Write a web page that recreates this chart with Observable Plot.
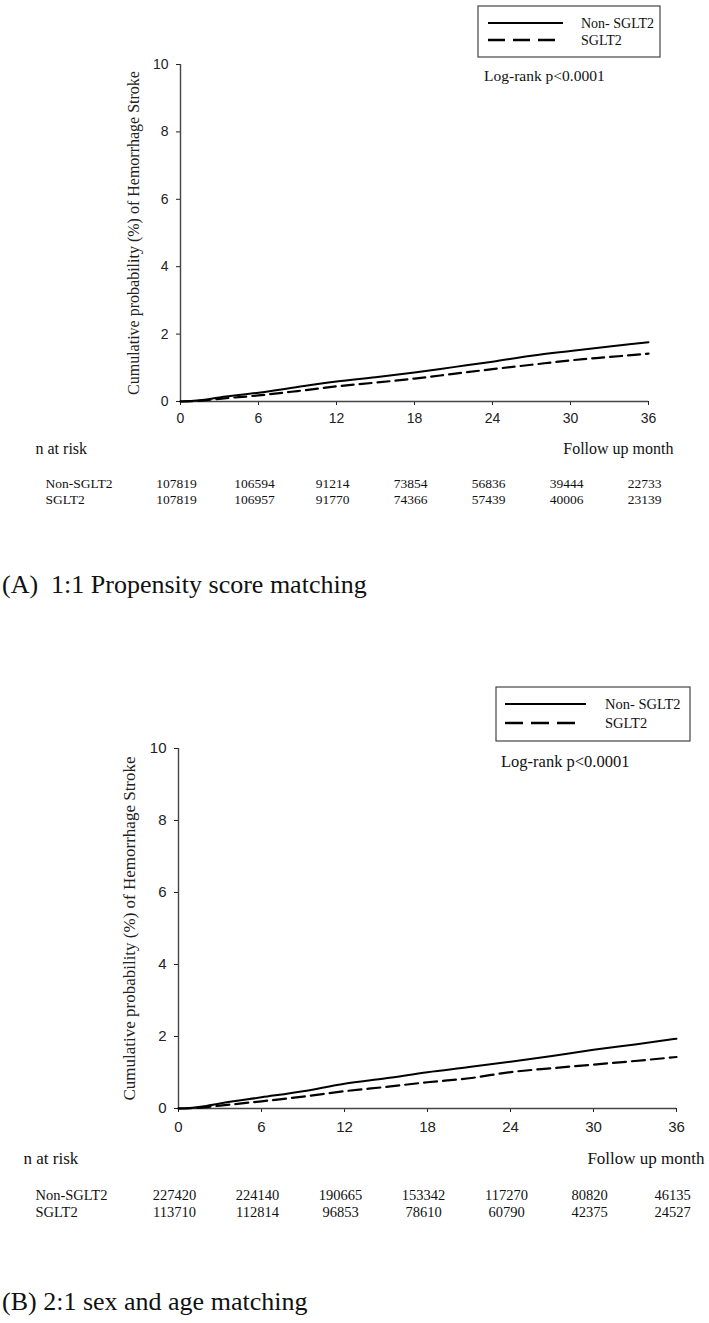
<!DOCTYPE html>
<html>
<head>
<meta charset="utf-8">
<script src="https://cdn.jsdelivr.net/npm/d3@7"></script>
<script src="https://cdn.jsdelivr.net/npm/@observablehq/plot@0.6"></script>
<style>
  html, body { margin: 0; padding: 0; background: #fff; }
  #wrap { position: relative; width: 709px; height: 1323px; }
  .panel { position: absolute; left: 0; }
  .cap { position: absolute; left: 2px; font-family: "Liberation Serif", "Times New Roman", serif; font-size: 26px; line-height: 26px; color: #111; white-space: pre; }
</style>
</head>
<body>
<div id="wrap">
  <div id="pA" class="panel" style="top:0px"></div>
  <div class="cap" style="top:572px">(A)  1:1 Propensity score matching</div>
  <div id="pB" class="panel" style="top:640px"></div>
  <div class="cap" style="top:1289px">(B) 2:1 sex and age matching</div>
</div>
<script>
// ---- data ----
const groups = ["Non- SGLT2", "SGLT2"];
const rowLabels = ["Non-SGLT2", "SGLT2"];
const yTitle = "Cumulative probability (%) of Hemorrhage Stroke";
const logRank = "Log-rank p<0.0001";
const xTicks = [0, 6, 12, 18, 24, 30, 36];
const yTicks = [0, 2, 4, 6, 8, 10];

const months = [0, 1, 2, 3, 6, 9, 12, 15, 18, 21, 24, 27, 30, 33, 36];
const nonA = [0, 0.02, 0.06, 0.12, 0.26, 0.43, 0.59, 0.72, 0.86, 1.02, 1.18, 1.36, 1.50, 1.63, 1.76];
const sglA = [0, 0.01, 0.04, 0.08, 0.18, 0.31, 0.45, 0.56, 0.68, 0.82, 0.96, 1.09, 1.22, 1.32, 1.42];
const nonB = [0, 0.02, 0.07, 0.14, 0.31, 0.48, 0.69, 0.84, 1.01, 1.15, 1.30, 1.46, 1.63, 1.78, 1.94];
const sglB = [0, 0.01, 0.04, 0.08, 0.20, 0.33, 0.48, 0.60, 0.73, 0.84, 1.01, 1.12, 1.22, 1.32, 1.43];

const riskMonths = [0, 6, 12, 18, 24, 30, 36];
const riskNonA = [107819, 106594, 91214, 73854, 56836, 39444, 22733];
const riskSglA = [107819, 106957, 91770, 74366, 57439, 40006, 23139];
const riskNonB = [227420, 224140, 190665, 153342, 117270, 80820, 46135];
const riskSglB = [113710, 112814, 96853, 78610, 60790, 42375, 24527];

const SERIF = "Liberation Serif, Times New Roman, serif";
const SANS = "Liberation Sans, Arial, sans-serif";

function makePanel(el, cfg) {
  const non = months.map((m, i) => ({month: m, value: cfg.non[i]}));
  const sgl = months.map((m, i) => ({month: m, value: cfg.sgl[i]}));
  const rNon = riskMonths.map((m, i) => ({month: m, n: cfg.rNon[i]}));
  const rSgl = riskMonths.map((m, i) => ({month: m, n: cfg.rSgl[i]}));
  const L = cfg.L;
  const plot = Plot.plot({
    width: 709,
    height: cfg.height,
    marginTop: cfg.mt,
    marginBottom: cfg.height - cfg.axisY,
    marginLeft: cfg.ml,
    marginRight: cfg.mr,
    style: {fontFamily: SANS, fontSize: cfg.tickFont + "px", color: "#222", background: "white", overflow: "visible"},
    x: {domain: [0, 36], ticks: xTicks, tickSize: 4, tickPadding: cfg.xPad, label: null, tickFormat: d => String(d)},
    y: {domain: [0, 10], ticks: yTicks, tickSize: 4, tickPadding: 8, label: null, tickFormat: d => String(d)},
    marks: [
      Plot.ruleX([0], {stroke: "#444", strokeWidth: 1.4}),
      Plot.ruleY([0], {stroke: "#444", strokeWidth: 1.4}),
      Plot.line(sgl, {x: "month", y: "value", stroke: "#000", strokeWidth: 2.2, strokeDasharray: cfg.dash, curve: "monotone-x"}),
      Plot.line(non, {x: "month", y: "value", stroke: "#000", strokeWidth: 2, curve: "monotone-x"}),
      Plot.text([yTitle], {text: d => d, frameAnchor: "left", dx: cfg.titleDx, rotate: -90, textAnchor: "middle", lineAnchor: "middle", fontFamily: SERIF, fontSize: cfg.titleFont, fill: "#222"}),
      Plot.text(["n at risk"], {text: d => d, frameAnchor: "bottom-left", dx: cfg.natX - cfg.ml, dy: cfg.natDy, textAnchor: "start", lineAnchor: "middle", fontFamily: SERIF, fontSize: cfg.labFont, fill: "#111"}),
      Plot.text(["Follow up month"], {text: d => d, frameAnchor: "bottom-right", dx: cfg.fumX - (709 - cfg.mr), dy: cfg.natDy, textAnchor: "end", lineAnchor: "middle", fontFamily: SERIF, fontSize: cfg.labFont, fill: "#111"}),
      Plot.text([rowLabels[0]], {text: d => d, frameAnchor: "bottom-left", dx: cfg.rowX - cfg.ml, dy: cfg.row1, textAnchor: "start", lineAnchor: "middle", fontFamily: SERIF, fontSize: cfg.tabFont, fill: "#111"}),
      Plot.text([rowLabels[1]], {text: d => d, frameAnchor: "bottom-left", dx: cfg.rowX - cfg.ml, dy: cfg.row2, textAnchor: "start", lineAnchor: "middle", fontFamily: SERIF, fontSize: cfg.tabFont, fill: "#111"}),
      Plot.text(rNon, {x: "month", text: d => String(d.n), frameAnchor: "bottom", dx: -4, dy: cfg.row1, lineAnchor: "middle", fontFamily: SERIF, fontSize: cfg.tabFont, fill: "#111"}),
      Plot.text(rSgl, {x: "month", text: d => String(d.n), frameAnchor: "bottom", dx: -4, dy: cfg.row2, lineAnchor: "middle", fontFamily: SERIF, fontSize: cfg.tabFont, fill: "#111"})
    ]
  });
  // legend box and log-rank annotation (in the top margin)
  const svg = d3.select(plot);
  const g = svg.append("g").attr("text-anchor", "start");
  g.append("rect").attr("x", L.x0).attr("y", L.y0).attr("width", L.x1 - L.x0).attr("height", L.y1 - L.y0)
    .attr("fill", "white").attr("stroke", "#444").attr("stroke-width", 1.2);
  g.append("line").attr("x1", L.lx0).attr("x2", L.lx1).attr("y1", L.ly1).attr("y2", L.ly1)
    .attr("stroke", "#000").attr("stroke-width", 2);
  g.append("line").attr("x1", L.lx0).attr("x2", L.lx1d).attr("y1", L.ly2).attr("y2", L.ly2)
    .attr("stroke", "#000").attr("stroke-width", 2.4).attr("stroke-dasharray", L.dash);
  [[groups[0], L.ly1], [groups[1], L.ly2]].forEach(([t, y]) => {
    g.append("text").attr("x", L.tx).attr("y", y).attr("dy", "0.35em").attr("text-anchor", "start")
      .attr("font-family", SERIF).attr("font-size", L.font).attr("fill", "#111").text(t);
  });
  g.append("text").attr("x", L.lrX).attr("y", L.lrY).attr("dy", "0.35em").attr("text-anchor", "start")
    .attr("font-family", SERIF).attr("font-size", L.lrFont).attr("fill", "#111").text(logRank);
  el.appendChild(plot);
}

makePanel(document.getElementById("pA"), {
  non: nonA, sgl: sglA, rNon: riskNonA, rSgl: riskSglA,
  height: 520, mt: 64, axisY: 401, ml: 180, mr: 61,
  tickFont: 14, xPad: 8, dash: "12,6",
  titleDx: -47, titleFont: 16,
  natX: 35, fumX: 673, natDy: 47, labFont: 16,
  rowX: 45, row1: 82, row2: 98, tabFont: 13.5,
  L: {x0: 478, x1: 660, y0: 6, y1: 57, lx0: 488, lx1: 563, lx1d: 557, ly1: 23, ly2: 40, dash: "17,8",
      tx: 581, font: 14, lrX: 484, lrY: 76, lrFont: 15.5}
});

makePanel(document.getElementById("pB"), {
  non: nonB, sgl: sglB, rNon: riskNonB, rSgl: riskSglB,
  height: 585, mt: 108, axisY: 468, ml: 178, mr: 33,
  tickFont: 15, xPad: 9, dash: "13,6",
  titleDx: -49, titleFont: 17,
  natX: 23, fumX: 704, natDy: 50, labFont: 17,
  rowX: 35, row1: 87, row2: 104, tabFont: 14.5,
  L: {x0: 496, x1: 690, y0: 47, y1: 101, lx0: 505, lx1: 586, lx1d: 579, ly1: 64, ly2: 83, dash: "18,8",
      tx: 605, font: 14.5, lrX: 501, lrY: 121, lrFont: 16.5}
});
</script>
</body>
</html>
